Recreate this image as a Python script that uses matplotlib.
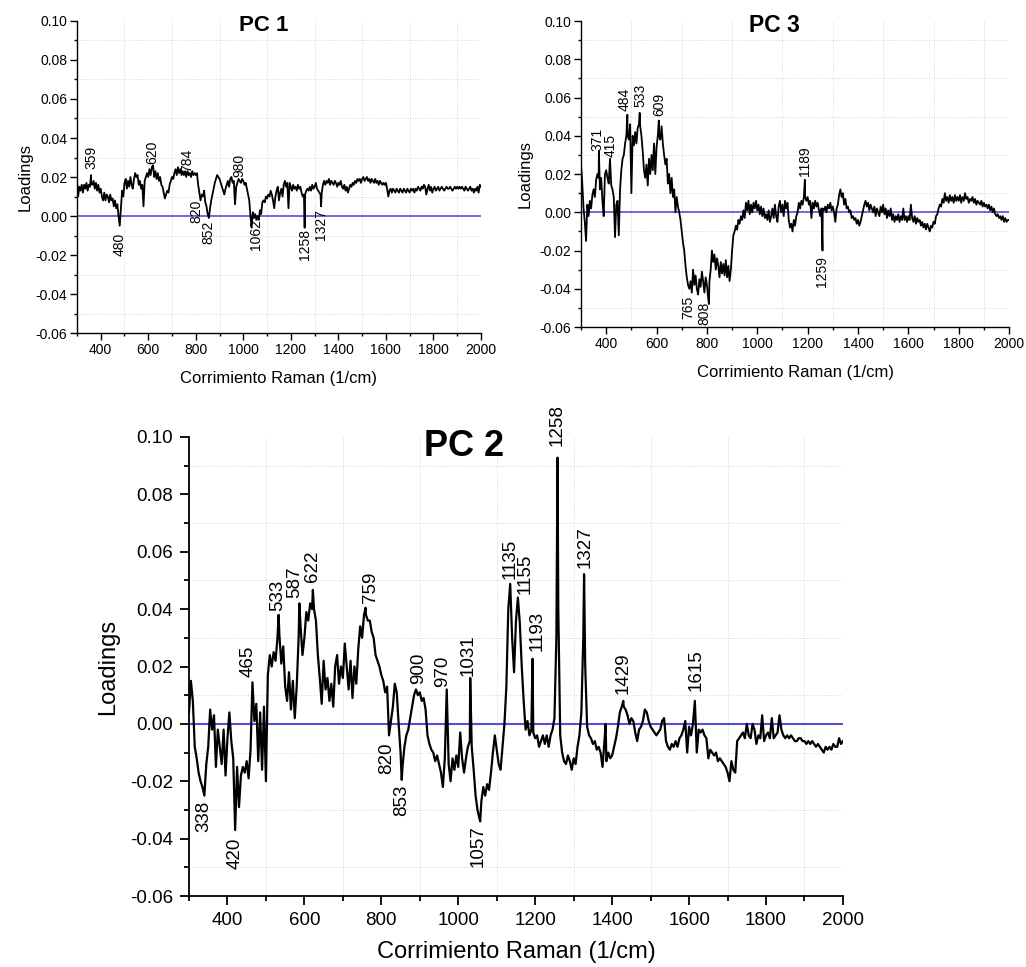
import numpy as np
import matplotlib
matplotlib.use("Agg")
import matplotlib.pyplot as plt
from matplotlib.ticker import MultipleLocator, FormatStrFormatter

plt.rcParams["font.family"] = ["Liberation Sans", "DejaVu Sans"]
plt.rcParams["axes.unicode_minus"] = False

# ---------------- data ----------------
RAMAN_START, RAMAN_STOP, RAMAN_STEP = 300, 2000, 5
raman_grid = np.arange(RAMAN_START, RAMAN_STOP + 1, RAMAN_STEP)

# PC 1 loadings, one row per 100 1/cm (300..395, 400..495, ...)
pc1_rows = [
    [0.018, 0.010, 0.015, 0.013, 0.016, 0.012, 0.016, 0.014, 0.017, 0.013, 0.016, 0.015, 0.017, 0.016, 0.018, 0.014, 0.017, 0.013, 0.016, 0.012],
    [0.014, 0.010, 0.008, 0.012, 0.008, 0.011, 0.010, 0.007, 0.011, 0.008, 0.009, 0.005, 0.008, 0.004, 0.006, 0.000, -0.005, 0.004, 0.013, 0.010],
    [0.017, 0.019, 0.014, 0.018, 0.015, 0.020, 0.016, 0.014, 0.019, 0.022, 0.020, 0.021, 0.016, 0.018, 0.014, 0.016, 0.005, 0.018, 0.020, 0.022],
    [0.020, 0.024, 0.021, 0.025, 0.026, 0.020, 0.023, 0.019, 0.022, 0.018, 0.020, 0.016, 0.015, 0.012, 0.009, 0.011, 0.013, 0.012, 0.016, 0.018],
    [0.020, 0.019, 0.022, 0.024, 0.021, 0.025, 0.022, 0.024, 0.021, 0.023, 0.021, 0.023, 0.020, 0.023, 0.021, 0.022, 0.020, 0.023, 0.021, 0.022],
    [0.021, 0.022, 0.016, 0.012, 0.008, 0.011, 0.010, 0.013, 0.007, 0.005, 0.001, -0.001, 0.004, 0.008, 0.011, 0.014, 0.017, 0.019, 0.021, 0.020],
    [0.019, 0.017, 0.015, 0.013, 0.011, 0.014, 0.016, 0.018, 0.015, 0.019, 0.020, 0.017, 0.018, 0.006, 0.015, 0.017, 0.019, 0.018, 0.017, 0.019],
    [0.018, 0.016, 0.017, 0.014, 0.011, 0.008, 0.000, -0.006, 0.002, -0.001, 0.001, -0.002, 0.000, -0.002, 0.003, 0.001, 0.007, 0.008, 0.007, 0.010],
    [0.009, 0.011, 0.010, 0.013, 0.011, 0.008, 0.004, 0.010, 0.013, 0.015, 0.008, 0.012, 0.014, 0.010, 0.016, 0.018, 0.015, 0.017, 0.004, 0.017],
    [0.015, 0.013, 0.016, 0.014, 0.015, 0.013, 0.016, 0.014, 0.015, 0.012, 0.010, 0.011, 0.011, 0.013, 0.014, 0.013, 0.015, 0.013, 0.016, 0.014],
    [0.015, 0.017, 0.014, 0.013, 0.012, 0.011, 0.012, 0.016, 0.018, 0.016, 0.018, 0.017, 0.019, 0.016, 0.018, 0.017, 0.016, 0.018, 0.017, 0.015],
    [0.017, 0.016, 0.018, 0.015, 0.014, 0.016, 0.013, 0.015, 0.012, 0.014, 0.016, 0.015, 0.017, 0.016, 0.018, 0.017, 0.019, 0.018, 0.019, 0.017],
    [0.019, 0.020, 0.018, 0.019, 0.020, 0.018, 0.019, 0.017, 0.019, 0.018, 0.017, 0.019, 0.017, 0.018, 0.016, 0.018, 0.017, 0.016, 0.017, 0.016],
    [0.017, 0.014, 0.010, 0.013, 0.014, 0.012, 0.014, 0.013, 0.012, 0.014, 0.013, 0.012, 0.014, 0.013, 0.012, 0.014, 0.013, 0.012, 0.014, 0.013],
    [0.012, 0.014, 0.013, 0.014, 0.012, 0.014, 0.013, 0.015, 0.014, 0.013, 0.015, 0.014, 0.016, 0.015, 0.011, 0.014, 0.016, 0.013, 0.015, 0.012],
    [0.014, 0.015, 0.013, 0.014, 0.015, 0.013, 0.014, 0.015, 0.014, 0.013, 0.014, 0.015, 0.014, 0.014, 0.015, 0.014, 0.013, 0.014, 0.015, 0.014],
    [0.015, 0.014, 0.015, 0.014, 0.015, 0.014, 0.013, 0.015, 0.014, 0.013, 0.014, 0.015, 0.013, 0.014, 0.012, 0.014, 0.013, 0.015, 0.012, 0.016],
]
pc1_end = 0.015
pc1_peak_x = [359, 1258, 1327]
pc1_peak_y = [0.021, -0.006, 0.005]

# PC 2 loadings
pc2_rows = [
    [0.004, 0.015, 0.008, -0.008, -0.012, -0.017, -0.020, -0.022, -0.025, -0.014, -0.008, 0.005, -0.002, 0.003, -0.015, -0.002, -0.008, -0.014, -0.002, -0.018],
    [-0.005, 0.004, -0.006, -0.012, -0.020, -0.015, -0.029, -0.018, -0.015, -0.017, -0.013, -0.019, -0.009, 0.006, 0.001, 0.007, -0.013, 0.004, -0.016, 0.006],
    [-0.020, 0.017, 0.024, 0.020, 0.025, 0.022, 0.030, 0.031, 0.021, 0.027, 0.013, 0.008, 0.018, 0.005, 0.015, 0.002, 0.013, 0.030, 0.034, 0.024],
    [0.030, 0.039, 0.036, 0.042, 0.040, 0.040, 0.036, 0.024, 0.016, 0.007, 0.022, 0.012, 0.016, 0.008, 0.014, 0.006, 0.020, 0.024, 0.014, 0.020],
    [0.016, 0.028, 0.020, 0.012, 0.022, 0.009, 0.020, 0.014, 0.026, 0.034, 0.030, 0.038, 0.038, 0.036, 0.036, 0.032, 0.030, 0.024, 0.022, 0.020],
    [0.017, 0.015, 0.011, 0.013, -0.004, 0.001, 0.006, 0.014, 0.011, 0.000, -0.010, -0.015, -0.008, -0.004, -0.002, 0.002, 0.006, 0.010, 0.012, 0.010],
    [0.011, 0.008, 0.009, 0.005, -0.004, -0.007, -0.009, -0.010, -0.013, -0.011, -0.014, -0.017, -0.022, -0.012, -0.012, -0.014, -0.020, -0.012, -0.016, -0.011],
    [-0.015, -0.003, -0.012, -0.017, -0.012, -0.008, -0.006, -0.008, -0.016, -0.025, -0.030, -0.033, -0.027, -0.022, -0.025, -0.021, -0.023, -0.017, -0.010, -0.004],
    [-0.009, -0.014, -0.016, -0.008, 0.000, 0.013, 0.040, 0.046, 0.030, 0.018, 0.036, 0.040, 0.035, 0.020, 0.008, -0.002, 0.001, -0.004, -0.002, -0.003],
    [-0.005, -0.004, -0.008, -0.006, -0.004, -0.007, -0.004, -0.008, -0.004, -0.002, 0.002, 0.030, 0.040, -0.004, -0.010, -0.013, -0.014, -0.011, -0.013, -0.016],
    [-0.012, -0.014, -0.008, -0.004, 0.004, 0.030, 0.020, -0.001, -0.004, -0.005, -0.007, -0.006, -0.009, -0.008, -0.010, -0.015, -0.006, -0.013, -0.010, -0.012],
    [-0.011, -0.008, -0.005, -0.001, 0.004, 0.006, 0.006, 0.005, 0.003, 0.000, 0.002, 0.001, -0.003, -0.006, -0.002, -0.001, 0.001, 0.005, 0.004, 0.001],
    [-0.001, -0.002, -0.003, -0.004, -0.003, -0.002, 0.001, 0.002, -0.006, -0.008, -0.009, -0.007, -0.008, -0.006, -0.008, -0.005, -0.004, -0.002, 0.001, -0.010],
    [-0.001, -0.004, 0.000, 0.001, -0.010, -0.002, -0.003, -0.002, -0.004, -0.005, -0.012, -0.009, -0.010, -0.011, -0.010, -0.013, -0.012, -0.013, -0.014, -0.015],
    [-0.017, -0.020, -0.013, -0.016, -0.017, -0.006, -0.005, -0.004, -0.003, -0.005, 0.000, -0.004, -0.005, 0.000, -0.002, -0.007, -0.004, -0.005, 0.003, -0.006],
    [-0.004, -0.003, -0.005, 0.002, -0.005, -0.004, -0.003, 0.003, -0.002, -0.004, -0.005, -0.004, -0.005, -0.004, -0.005, -0.006, -0.006, -0.005, -0.005, -0.006],
    [-0.006, -0.007, -0.006, -0.007, -0.006, -0.007, -0.008, -0.007, -0.008, -0.009, -0.010, -0.008, -0.009, -0.008, -0.009, -0.007, -0.008, -0.008, -0.005, -0.007],
]
pc2_end = -0.006
pc2_peak_x = [420, 465, 533, 587, 622, 759, 853, 970, 1031, 1057, 1135, 1155, 1193, 1258, 1327, 1383, 1429, 1615]
pc2_peak_y = [-0.037, 0.0145, 0.038, 0.042, 0.0467, 0.0405, -0.0195, 0.012, 0.016, -0.034,
              0.0488, 0.044, 0.0227, 0.0928, 0.0522, 0.000, 0.008, 0.008]

# PC 3 loadings
pc3_rows = [
    [0.025, 0.015, 0.002, -0.005, -0.015, 0.004, -0.002, 0.006, 0.002, 0.009, 0.012, 0.008, 0.017, 0.020, 0.018, 0.012, 0.018, 0.006, -0.002, 0.020],
    [0.022, 0.018, 0.015, 0.020, 0.014, 0.012, 0.008, -0.013, 0.004, 0.006, -0.012, 0.012, 0.022, 0.028, 0.030, 0.036, 0.040, 0.040, 0.038, 0.046],
    [0.010, 0.040, 0.035, 0.042, 0.036, 0.044, 0.046, 0.045, 0.040, 0.032, 0.022, 0.018, 0.025, 0.014, 0.028, 0.020, 0.030, 0.022, 0.036, 0.020],
    [0.034, 0.040, 0.040, 0.038, 0.045, 0.036, 0.030, 0.025, 0.028, 0.015, 0.020, 0.010, 0.018, 0.008, 0.012, 0.000, 0.008, 0.003, 0.000, -0.004],
    [-0.010, -0.016, -0.020, -0.028, -0.034, -0.038, -0.040, -0.036, -0.042, -0.030, -0.038, -0.033, -0.040, -0.043, -0.035, -0.039, -0.031, -0.036, -0.042, -0.034],
    [-0.038, -0.045, -0.036, -0.030, -0.020, -0.026, -0.022, -0.030, -0.024, -0.028, -0.034, -0.026, -0.032, -0.027, -0.033, -0.025, -0.034, -0.028, -0.036, -0.030],
    [-0.020, -0.012, -0.010, -0.007, -0.009, -0.004, -0.006, -0.002, -0.004, 0.001, -0.003, 0.005, 0.001, 0.006, -0.001, 0.004, 0.000, 0.005, 0.002, 0.006],
    [0.001, 0.004, -0.001, 0.003, -0.002, 0.002, -0.003, -0.001, -0.004, 0.001, -0.005, -0.002, 0.002, -0.003, 0.004, -0.002, -0.005, 0.003, 0.006, 0.000],
    [0.004, -0.002, 0.006, 0.002, 0.005, -0.004, -0.008, -0.006, -0.010, -0.004, -0.007, -0.002, 0.000, 0.005, 0.002, 0.006, 0.004, 0.008, 0.008, 0.006],
    [0.008, 0.004, 0.006, -0.003, 0.005, 0.002, 0.006, 0.003, 0.005, 0.001, -0.002, 0.002, 0.002, 0.001, 0.003, 0.000, 0.004, 0.002, 0.005, 0.001],
    [0.003, 0.000, -0.005, 0.002, 0.004, 0.009, 0.012, 0.008, 0.010, 0.004, 0.007, 0.002, 0.003, 0.000, 0.001, -0.003, -0.002, -0.004, -0.003, -0.006],
    [-0.004, -0.007, -0.005, -0.002, 0.001, 0.004, 0.006, 0.003, 0.005, 0.001, 0.004, 0.002, 0.000, 0.003, -0.002, 0.002, 0.000, -0.002, 0.003, 0.000],
    [0.004, -0.001, 0.002, -0.003, 0.001, -0.002, 0.002, -0.004, -0.001, -0.005, -0.002, -0.004, -0.001, -0.005, -0.002, -0.004, 0.002, -0.004, -0.002, -0.005],
    [-0.002, -0.004, 0.004, -0.003, -0.005, -0.002, -0.006, -0.003, -0.005, -0.004, -0.007, -0.005, -0.008, -0.006, -0.009, -0.006, -0.008, -0.010, -0.007, -0.008],
    [-0.005, -0.006, -0.002, -0.001, 0.002, 0.004, 0.003, 0.007, 0.005, 0.010, 0.006, 0.008, 0.005, 0.009, 0.006, 0.008, 0.005, 0.009, 0.006, 0.008],
    [0.006, 0.009, 0.005, 0.008, 0.006, 0.010, 0.007, 0.008, 0.005, 0.007, 0.006, 0.008, 0.005, 0.007, 0.004, 0.006, 0.005, 0.004, 0.006, 0.003],
    [0.005, 0.003, 0.004, 0.002, 0.004, 0.001, 0.003, 0.000, 0.002, -0.001, -0.002, -0.001, -0.003, -0.002, -0.004, -0.002, -0.005, -0.003, -0.005, -0.004],
]
pc3_end = -0.004
pc3_peak_x = [371, 415, 484, 533, 609, 808, 1189, 1259]
pc3_peak_y = [0.032, 0.028, 0.051, 0.052, 0.048, -0.048, 0.017, -0.020]

# peak labels (text) of each panel
pc1_labels = ["359", "480", "620", "784", "820", "852", "980", "1062", "1258", "1327"]
pc2_labels = ["338", "420", "465", "533", "587", "622", "759", "820", "853", "900", "970",
              "1031", "1057", "1135", "1155", "1193", "1258", "1327", "1429", "1615"]
pc3_labels = ["371", "415", "484", "533", "609", "765", "808", "1189", "1259"]

# ---------------- layout of the labels: (x, y, side) ----------------
pc1_label_pos = [(360, 0.0240, "b"), (480, -0.0085, "t"), (617, 0.0268, "b"), (763, 0.0225, "b"),
                 (803, 0.0085, "t"), (852, -0.0025, "t"), (985, 0.0200, "b"), (1055, -0.0014, "t"),
                 (1259, -0.0068, "t"), (1326, 0.0038, "t")]
pc2_label_pos = [(338, -0.0267, "t"), (419, -0.0397, "t"), (454, 0.0162, "b"), (531, 0.0394, "b"),
                 (576, 0.0440, "b"), (622, 0.0493, "b"), (773, 0.0423, "b"), (815, -0.0064, "t"),
                 (854, -0.0210, "t"), (897, 0.0139, "b"), (960, 0.0128, "b"), (1025, 0.0168, "b"),
                 (1051, -0.0354, "t"), (1134, 0.0505, "b"), (1175, 0.0452, "b"), (1204, 0.0254, "b"),
                 (1257, 0.0969, "b"), (1329, 0.0545, "b"), (1428, 0.0104, "b"), (1617, 0.0115, "b")]
pc3_label_pos = [(367, 0.0320, "b"), (416, 0.0288, "b"), (472, 0.0530, "b"), (535, 0.0550, "b"),
                 (612, 0.0506, "b"), (725, -0.0436, "t"), (788, -0.0470, "t"), (1190, 0.0190, "b"),
                 (1256, -0.0227, "t")]


def build_series(rows, end, peak_x, peak_y):
    y = np.array([v for r in rows for v in r] + [end])
    keep = ~np.isin(raman_grid, peak_x)
    x_all = np.concatenate([raman_grid[keep], np.asarray(peak_x, float)])
    y_all = np.concatenate([y[keep], np.asarray(peak_y, float)])
    order = np.argsort(x_all)
    return x_all[order], y_all[order]


BLUE = "#5050dc"
fig = plt.figure(figsize=(10.26, 9.67), dpi=100)


def draw_panel(rect, series, title, title_xy, title_size, labels, label_pos, s):
    ax = fig.add_axes(rect)
    x, y = series
    ax.axhline(0, color=BLUE, lw=s["zero_lw"], zorder=2)
    ax.plot(x, y, color="black", lw=s["lw"], zorder=3)
    ax.set_xlim(300, 2000)
    ax.set_ylim(-0.06, 0.10)
    ax.xaxis.set_major_locator(MultipleLocator(200))
    ax.xaxis.set_minor_locator(MultipleLocator(100))
    ax.yaxis.set_major_locator(MultipleLocator(0.02))
    ax.yaxis.set_minor_locator(MultipleLocator(0.01))
    ax.yaxis.set_major_formatter(FormatStrFormatter("%.2f"))
    ax.grid(which="minor", color="#d6d6d6", linestyle=(0, (1, 1.5)), lw=0.7)
    ax.grid(which="major", visible=False)
    ax.set_axisbelow(True)
    for side in ("top", "right"):
        ax.spines[side].set_visible(False)
    for side in ("left", "bottom"):
        ax.spines[side].set_linewidth(s["spine_lw"])
    ax.tick_params(which="major", direction="out", length=s["tick_len"], width=s["spine_lw"],
                   labelsize=s["tick_fs"], pad=s["tick_pad"])
    ax.tick_params(which="minor", direction="out", length=s["tick_len"] * 0.5, width=s["spine_lw"])
    ax.set_xlabel("Corrimiento Raman (1/cm)", fontsize=s["label_fs"], labelpad=s["xlabelpad"])
    ax.set_ylabel("Loadings", fontsize=s["label_fs"], labelpad=s["ylabelpad"])
    ax.text(title_xy[0], title_xy[1], title, transform=ax.transAxes, ha="center", va="center",
            fontsize=title_size, fontweight="bold")
    for lab, (lx, ly, sd) in zip(labels, label_pos):
        ax.text(lx, ly, lab, rotation=90, ha="center", va="bottom" if sd == "b" else "top",
                fontsize=s["peak_fs"], zorder=4)
    return ax


small = dict(lw=1.3, zero_lw=1.2, spine_lw=1.0, tick_len=5, tick_fs=10, tick_pad=2,
             label_fs=12, xlabelpad=10, ylabelpad=2, peak_fs=10)
small3 = dict(small, ylabelpad=5)
big = dict(lw=1.6, zero_lw=1.5, spine_lw=1.3, tick_len=6.5, tick_fs=13.5, tick_pad=5,
           label_fs=17, xlabelpad=9, ylabelpad=8, peak_fs=13.5)

draw_panel([0.0750, 0.6556, 0.3938, 0.3227], build_series(pc1_rows, pc1_end, pc1_peak_x, pc1_peak_y),
           "PC 1", (0.463, 0.987), 16, pc1_labels, pc1_label_pos, small)
draw_panel([0.5663, 0.6618, 0.4172, 0.3164], build_series(pc3_rows, pc3_end, pc3_peak_x, pc3_peak_y),
           "PC 3", (0.453, 0.984), 16.5, pc3_labels, pc3_label_pos, small3)
draw_panel([0.1842, 0.0734, 0.6374, 0.4747], build_series(pc2_rows, pc2_end, pc2_peak_x, pc2_peak_y),
           "PC 2", (0.42, 0.980), 26, pc2_labels, pc2_label_pos, big)

fig.savefig("out.png", dpi=100)
